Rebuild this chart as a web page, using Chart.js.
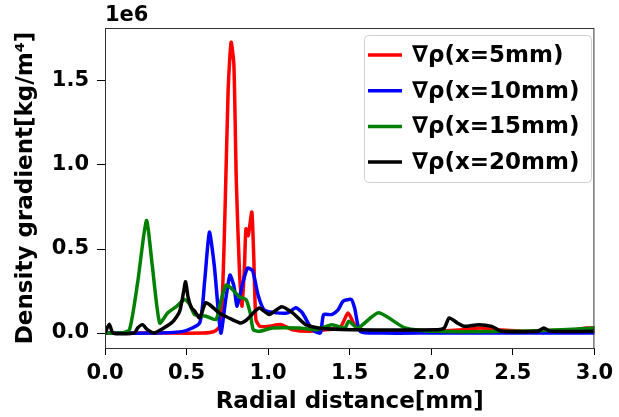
<!DOCTYPE html>
<html>
<head>
<meta charset="utf-8">
<script src="https://cdn.jsdelivr.net/npm/chart.js@4"></script>
<style>
  body { margin: 0; background: #fff; }
  canvas { display: block; }
</style>
</head>
<body>
<canvas id="gradChart" width="619" height="417"></canvas>
<script>
// values in units of 1e6 kg/m^4, x in mm
const redX = [0, 0.3, 0.6, 0.67, 0.71, 0.735, 0.755, 0.773, 0.79, 0.805, 0.825, 0.84, 0.855, 0.864, 0.878, 0.9, 0.912, 0.925, 0.95, 1.0, 1.08, 1.15, 1.25, 1.35, 1.44, 1.49, 1.53, 1.6, 1.8, 2.0, 2.2, 2.3, 2.4, 2.6, 2.8, 2.95, 3.0];
const redY = [0, 0, 0, 0.01, 0.05, 0.7, 1.45, 1.73, 1.6, 0.9, 0.35, 0.16, 0.4, 0.62, 0.58, 0.72, 0.45, 0.08, 0.04, 0.04, 0.05, 0.02, 0.01, 0.02, 0.03, 0.12, 0.05, 0.01, 0.01, 0.01, 0.02, 0.03, 0.02, 0.01, 0.01, 0.03, 0.03];

const blueX = [0, 0.3, 0.48, 0.58, 0.61, 0.64, 0.67, 0.71, 0.74, 0.766, 0.79, 0.81, 0.845, 0.874, 0.905, 0.94, 0.976, 1.05, 1.12, 1.17, 1.21, 1.27, 1.32, 1.34, 1.39, 1.43, 1.46, 1.51, 1.53, 1.565, 1.7, 2.0, 2.5, 3.0];
const blueY = [0, 0, 0.01, 0.06, 0.3, 0.6, 0.4, 0.0, 0.2, 0.345, 0.28, 0.16, 0.3, 0.386, 0.37, 0.22, 0.137, 0.12, 0.12, 0.15, 0.12, 0.02, 0.0, 0.11, 0.11, 0.14, 0.19, 0.2, 0.15, 0.01, 0.0, 0.0, 0.0, 0.0];

const greenX = [0, 0.1, 0.15, 0.2, 0.254, 0.29, 0.335, 0.385, 0.437, 0.488, 0.52, 0.549, 0.62, 0.68, 0.71, 0.742, 0.77, 0.823, 0.864, 0.89, 0.909, 0.945, 1.025, 1.19, 1.3, 1.39, 1.47, 1.494, 1.55, 1.677, 1.84, 2.04, 2.45, 2.8, 3.0];
const greenY = [0, 0, 0.02, 0.3, 0.67, 0.4, 0.06, 0.12, 0.157, 0.2, 0.17, 0.11, 0.1, 0.08, 0.19, 0.285, 0.27, 0.216, 0.2, 0.12, 0.02, 0.01, 0.03, 0.03, 0.02, 0.05, 0.03, 0.07, 0.03, 0.12, 0.03, 0.01, 0.01, 0.02, 0.03];

const blackX = [0, 0.026, 0.05, 0.18, 0.2, 0.23, 0.26, 0.3, 0.36, 0.415, 0.457, 0.482, 0.494, 0.51, 0.53, 0.55, 0.58, 0.616, 0.64, 0.7, 0.781, 0.832, 0.87, 0.945, 1.006, 1.083, 1.15, 1.23, 1.31, 1.51, 2.04, 2.08, 2.11, 2.16, 2.2, 2.29, 2.37, 2.43, 2.65, 2.69, 2.73, 3.0];
const blackY = [0, 0.053, 0, 0, 0.03, 0.05, 0.02, 0, 0.03, 0.067, 0.127, 0.246, 0.305, 0.21, 0.15, 0.13, 0.09, 0.18, 0.17, 0.12, 0.08, 0.06, 0.08, 0.149, 0.11, 0.157, 0.12, 0.05, 0.03, 0.02, 0.02, 0.03, 0.09, 0.06, 0.04, 0.05, 0.04, 0.01, 0.01, 0.03, 0.01, 0.01];

const seriesLabels = ['∇ρ(x=5mm)', '∇ρ(x=10mm)', '∇ρ(x=15mm)', '∇ρ(x=20mm)'];
const xTicks = [0, 0.5, 1.0, 1.5, 2.0, 2.5, 3.0];
const yTicks = [0, 0.5, 1.0, 1.5];

const pts = (xs, ys) => xs.map((x, i) => ({ x: x, y: ys[i] }));
const FONT = 'DejaVu Sans';

const frameAndLegend = {
  id: 'frameAndLegend',
  afterDraw(chart) {
    const ctx = chart.ctx;
    const a = chart.chartArea;
    ctx.save();
    // axes frame
    ctx.strokeStyle = '#333';
    ctx.lineWidth = 1;
    ctx.strokeRect(a.left + 0.5, a.top + 0.5, a.right - a.left - 1, a.bottom - a.top);
    // offset text
    ctx.fillStyle = '#000';
    ctx.font = 'bold 21px ' + FONT;
    ctx.textAlign = 'left';
    ctx.textBaseline = 'alphabetic';
    ctx.fillText('1e6', a.left, a.top - 7);
    // legend box
    const bx = 364, by = 35, bw = 227, bh = 147;
    ctx.beginPath();
    ctx.roundRect(bx + 0.5, by + 0.5, bw, bh, 4);
    ctx.fillStyle = 'rgba(255,255,255,0.8)';
    ctx.fill();
    ctx.strokeStyle = '#d0d0d0';
    ctx.stroke();
    ctx.font = 'bold 23px ' + FONT;
    ctx.textBaseline = 'middle';
    chart.data.datasets.forEach((ds, i) => {
      const y = 55 + i * 35.7;
      ctx.strokeStyle = ds.borderColor;
      ctx.lineWidth = 3.5;
      ctx.beginPath();
      ctx.moveTo(368, y);
      ctx.lineTo(402, y);
      ctx.stroke();
      ctx.fillStyle = '#000';
      ctx.fillText(ds.label, 412, y + 1);
    });
    ctx.restore();
  }
};

const colors = ['#ff0000', '#0000ff', '#008000', '#000000'];
const ctxLine = document.getElementById('gradChart').getContext('2d');
const lineChart = new Chart(ctxLine, {
  type: 'line',
  data: {
    datasets: [
      { label: seriesLabels[0], data: pts(redX, redY), borderColor: colors[0], order: 4 },
      { label: seriesLabels[1], data: pts(blueX, blueY), borderColor: colors[1], order: 3 },
      { label: seriesLabels[2], data: pts(greenX, greenY), borderColor: colors[2], order: 2 },
      { label: seriesLabels[3], data: pts(blackX, blackY), borderColor: colors[3], order: 1 }
    ]
  },
  options: {
    responsive: false,
    animation: false,
    devicePixelRatio: 1,
    layout: { padding: { top: 28, right: 22, left: 0, bottom: 0 } },
    elements: {
      line: { borderWidth: 3.5, tension: 0.2, fill: false, borderJoinStyle: 'round', borderCapStyle: 'round' },
      point: { radius: 0 }
    },
    plugins: {
      legend: { display: false },
      tooltip: { enabled: false }
    },
    scales: {
      x: {
        type: 'linear',
        min: 0,
        max: 3,
        afterBuildTicks: (s) => { s.ticks = xTicks.map(v => ({ value: v })); },
        afterFit: (s) => { s.height = 69; },
        ticks: {
          color: '#000',
          padding: 6,
          maxRotation: 0,
          font: { family: FONT, size: 21, weight: 'bold' },
          callback: (v) => Number(v).toFixed(1)
        },
        grid: { drawOnChartArea: false, color: '#000', tickLength: 7 },
        border: { color: '#333' },
        title: {
          display: true,
          text: 'Radial distance[mm]',
          color: '#000',
          padding: { top: 0, bottom: 1 },
          font: { family: FONT, size: 23, weight: 'bold' }
        }
      },
      y: {
        type: 'linear',
        min: -0.089,
        max: 1.815,
        afterBuildTicks: (s) => { s.ticks = yTicks.map(v => ({ value: v })); },
        afterFit: (s) => { s.width = 105; },
        ticks: {
          color: '#000',
          padding: 8,
          font: { family: FONT, size: 21, weight: 'bold' },
          callback: (v) => Number(v).toFixed(1)
        },
        grid: { drawOnChartArea: false, color: '#000', tickLength: 8 },
        border: { color: '#333' },
        title: {
          display: true,
          text: 'Density gradient[kg/m⁴]',
          color: '#000',
          padding: { top: 12, bottom: 2 },
          font: { family: FONT, size: 23, weight: 'bold' }
        }
      }
    }
  },
  plugins: [frameAndLegend]
});
</script>
</body>
</html>
